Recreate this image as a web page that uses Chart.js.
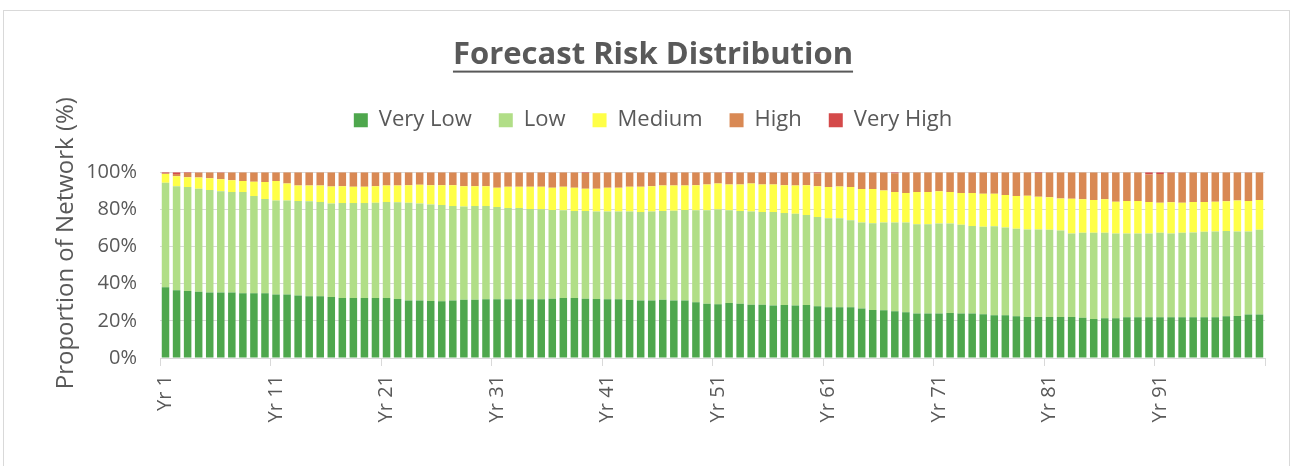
<!DOCTYPE html>
<html>
<head>
<meta charset="utf-8">
<script src="https://cdn.jsdelivr.net/npm/chart.js@4.4.1/dist/chart.umd.min.js"></script>
<style>
  html, body { margin: 0; padding: 0; background: #fff; width: 1295px; height: 466px; overflow: hidden; }
  #frame { position: absolute; left: 3px; top: 10px; width: 1287px; height: 470px; border: 1px solid #d9d9d9; box-sizing: border-box; }
  #chart { position: absolute; left: 41px; top: 0; }
</style>
</head>
<body>
<div id="frame"></div>
<canvas id="chart" width="1226" height="466"></canvas>
<script>
// Forecast risk distribution: share of the network in each risk band, years 1-100 (%)
const years = Array.from({ length: 100 }, (_, i) => 'Yr ' + (i + 1));

const veryLow = [
  38.1,36.4,36.0,35.7,35.3,35.3,35.3,34.9,34.8,34.8,
  34.2,34.2,33.7,33.2,33.2,32.8,32.3,32.3,32.3,32.3,
  32.3,31.7,31.0,31.0,30.7,30.5,31.0,31.4,31.4,31.6,
  31.6,31.6,31.6,31.6,31.6,31.9,32.3,32.3,31.9,31.7,
  31.6,31.6,31.2,31.0,31.0,31.4,31.0,31.0,30.0,29.2,
  28.9,29.6,29.2,28.7,28.7,28.2,28.5,28.2,28.5,27.8,
  27.3,27.3,27.3,26.6,25.8,25.7,25.1,24.6,23.9,23.9,
  23.9,24.2,23.9,23.9,23.5,23.0,23.0,22.5,22.1,22.1,
  22.1,22.1,22.1,21.6,21.0,21.4,21.4,21.9,21.9,21.9,
  21.9,21.9,21.9,21.9,21.9,21.9,22.5,22.6,23.4,23.4
];
const low = [
  56.2,56.1,56.0,55.4,55.1,54.4,54.0,54.4,52.4,50.8,
  50.6,50.6,50.8,51.1,50.8,50.4,51.1,51.1,51.1,51.3,
  51.7,52.1,52.6,52.1,51.9,51.9,50.8,50.1,50.4,50.2,
  49.7,49.1,49.1,48.6,48.4,47.8,47.2,46.8,47.2,47.1,
  47.2,47.2,47.6,47.6,47.8,47.7,48.3,48.7,49.5,50.3,
  51.0,49.9,49.9,50.1,49.9,50.4,49.6,49.5,48.5,48.1,
  47.9,47.9,46.9,46.3,46.7,47.2,47.8,48.3,48.1,48.1,
  48.5,48.2,47.8,47.2,47.1,47.9,47.2,47.0,47.1,47.1,
  46.9,46.5,44.9,45.8,46.4,46.0,45.6,45.1,45.1,45.1,
  45.5,45.1,45.5,45.7,46.0,46.2,45.8,45.5,44.7,45.6
];
const medium = [
  4.7,5.3,5.3,6.1,6.3,6.5,6.4,6.0,7.7,9.1,
  10.4,9.1,8.4,8.6,8.9,9.1,9.1,8.8,8.8,8.9,
  8.9,9.1,9.4,10.1,10.4,10.6,11.2,11.0,10.7,10.7,
  10.3,11.5,11.5,12.0,12.2,11.9,12.7,12.5,12.0,12.3,
  12.8,12.8,13.4,13.6,13.7,13.8,13.6,13.2,13.5,13.9,
  14.0,13.9,14.3,15.1,14.8,14.8,14.9,15.2,16.0,16.6,
  16.8,17.1,17.8,18.0,18.4,17.3,16.4,15.9,17.3,17.3,
  17.3,16.9,17.1,17.7,17.8,17.5,17.5,17.7,18.1,17.6,
  17.5,17.3,18.7,18.0,17.6,18.0,17.1,17.5,17.5,17.0,
  16.2,16.8,16.2,16.4,16.1,16.0,16.0,16.7,16.4,16.0
];
const high = [
  0.5,1.2,2.3,2.6,3.3,3.5,4.3,4.7,5.1,5.3,
  4.8,6.1,7.1,7.1,7.1,7.7,7.5,7.8,7.8,7.5,
  7.1,7.1,7.0,6.8,7.0,7.0,7.0,7.5,7.5,7.5,
  8.4,7.8,7.8,7.8,7.8,8.4,7.8,8.4,8.5,8.9,
  8.4,8.4,7.8,7.8,7.5,7.1,7.1,7.1,7.0,6.6,
  6.1,6.2,6.6,6.1,6.6,6.6,7.0,7.1,6.8,7.0,
  8.0,7.7,8.0,9.1,9.1,9.8,10.2,11.2,10.7,10.7,
  10.3,10.7,11.2,11.0,11.6,11.4,12.3,12.8,12.7,12.8,
  13.5,14.1,14.3,14.6,15.0,14.6,15.9,15.5,15.5,14.7,
  15.4,15.9,16.2,16.0,16.0,15.9,15.7,15.2,15.3,15.0
];
const veryHigh = [
  0.5,1.0,0.4,0.2,0,0.3,0,0,0,0,
  0,0,0,0,0,0,0,0,0,0,
  0,0,0,0,0,0,0,0,0,0,
  0,0,0,0,0,0,0,0,0.4,0,
  0,0,0,0,0,0,0,0,0,0,
  0,0.4,0,0,0,0,0,0,0.2,0.5,
  0,0,0,0,0,0,0.5,0,0,0,
  0,0,0,0.2,0,0.2,0,0,0,0.4,
  0,0,0,0,0,0,0,0,0,1.3,
  1.0,0.3,0.2,0,0,0,0,0,0.2,0
];

const yTicks = [0, 20, 40, 60, 80, 100];
const chartTitle = 'Forecast Risk Distribution';
const yTitle = 'Proportion of Network (%)';

const TEXT = '#595959';
const TITLE_FONT = { family: 'Open Sans', size: 31, weight: 'bold' };

// underline under the chart title
const titleUnderline = {
  id: 'titleUnderline',
  afterDraw(chart) {
    const tb = chart.titleBlock;
    const pad = chart.options.plugins.title.padding;
    const ctx = chart.ctx;
    ctx.save();
    ctx.font = `bold ${TITLE_FONT.size}px "${TITLE_FONT.family}"`;
    const w = ctx.measureText(chartTitle).width;
    const cx = (tb.left + tb.right) / 2;
    const y = tb.top + pad.top + TITLE_FONT.size * 1.2 / 2 + 15;
    ctx.fillStyle = TEXT;
    ctx.fillRect(cx - w / 2, y, w, 2);
    ctx.restore();
  }
};

// rotated value-axis caption
const valueAxisCaption = {
  id: 'valueAxisCaption',
  afterDraw(chart) {
    const ctx = chart.ctx;
    const area = chart.chartArea;
    ctx.save();
    ctx.translate(area.left - 94, area.top + 71);
    ctx.rotate(-Math.PI / 2);
    ctx.font = '24px "Open Sans"';
    ctx.fillStyle = TEXT;
    ctx.textAlign = 'center';
    ctx.textBaseline = 'middle';
    ctx.fillText(yTitle, 0, 0);
    ctx.restore();
  }
};

// extra room between the legend row and the plot
const legendGap = {
  id: 'legendGap',
  afterInit(chart) {
    const legend = chart.legend;
    const baseFit = legend.fit;
    legend.fit = function () { baseFit.call(this); this.height += 31; };
  }
};

const series = [
  { label: 'Very Low', data: veryLow, color: '#4EA74D' },
  { label: 'Low', data: low, color: '#B1DE87' },
  { label: 'Medium', data: medium, color: '#FFFF47' },
  { label: 'High', data: high, color: '#D98954' },
  { label: 'Very High', data: veryHigh, color: '#D44A4A' }
];

new Chart(document.getElementById('chart'), {
  type: 'bar',
  data: {
    labels: years,
    datasets: series.map(s => ({
      label: s.label,
      data: s.data,
      backgroundColor: s.color,
      borderWidth: 0,
      barPercentage: 0.68,
      categoryPercentage: 1.0
    }))
  },
  options: {
    responsive: false,
    animation: false,
    layout: { padding: { left: 0, right: 2, top: 0, bottom: 0 } },
    plugins: {
      tooltip: { enabled: false },
      title: {
        display: true,
        text: chartTitle,
        color: TEXT,
        font: TITLE_FONT,
        padding: { top: 37, bottom: 8 }
      },
      legend: {
        display: true,
        position: 'top',
        labels: {
          color: TEXT,
          font: { family: 'Open Sans', size: 22 },
          boxWidth: 14,
          boxHeight: 14,
          padding: 27
        }
      }
    },
    scales: {
      x: {
        stacked: true,
        afterFit(scale) {
          scale.height = 108;
          scale.paddingLeft = 0;
          scale.paddingRight = 0;
        },
        border: { display: true, color: '#d9d9d9', width: 1 },
        grid: {
          offset: true,
          drawOnChartArea: false,
          drawTicks: true,
          tickLength: 8,
          color: c => (c.index === undefined || c.index % 10 === 0) ? '#d9d9d9' : 'rgba(0,0,0,0)'
        },
        ticks: {
          autoSkip: false,
          maxRotation: 90,
          minRotation: 90,
          padding: 9,
          color: TEXT,
          font: { family: 'Open Sans', size: 20 },
          callback: (v, i) => (i % 10 === 0 ? years[i] : '')
        }
      },
      y: {
        stacked: true,
        min: 0,
        max: 100,
        z: 1,
        afterFit(scale) { scale.width = 119; },
        afterBuildTicks(scale) { scale.ticks = yTicks.map(v => ({ value: v })); },
        border: { display: false },
        grid: { color: 'rgba(0,0,0,0.15)', drawTicks: false, lineWidth: 1 },
        ticks: {
          padding: 23,
          color: TEXT,
          font: { family: 'Open Sans', size: 20 },
          callback: v => v + '%'
        }
      }
    }
  },
  plugins: [legendGap, titleUnderline, valueAxisCaption]
});
</script>
</body>
</html>
